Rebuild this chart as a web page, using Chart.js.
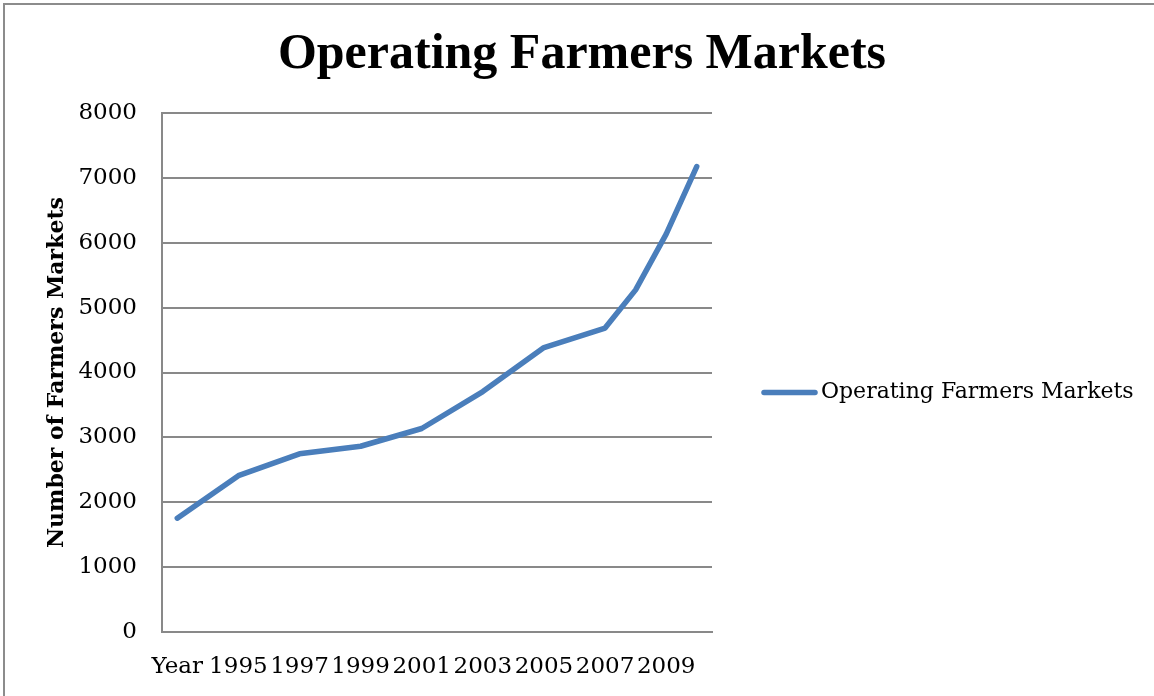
<!DOCTYPE html>
<html>
<head>
<meta charset="utf-8">
<script src="https://cdn.jsdelivr.net/npm/chart.js@4/dist/chart.umd.min.js"></script>
<style>
  body { margin: 0; background: #fff; }
  #wrap { position: relative; width: 1154px; height: 696px; overflow: hidden; }
  #frame { position: absolute; left: 3px; top: 3px; width: 1170px; height: 710px; border: 2px solid #8c8c8c; pointer-events: none; }
</style>
</head>
<body>
<div id="wrap">
  <canvas id="farmers-chart" width="1154" height="696"></canvas>
  <div id="frame"></div>
</div>
<script>
// categories as they appear in the sheet (first cell is the header "Year")
const categories = ['Year', '1994', '1995', '1996', '1997', '1998', '1999', '2000', '2001',
    '2002', '2003', '2004', '2005', '2006', '2007', '2008', '2009', '2010'];

// number of operating farmers markets, gaps where the sheet had no value
const marketCounts = [1755, null, 2410, null, 2746, null, 2863, null, 3137,
    null, 3706, null, 4385, null, 4685, 5274, 6132, 7175];

const yTicks = { min: 0, max: 8000, step: 1000 };

const seriesName = 'Operating Farmers Markets';
const lineColor = '#4a7ebb';
const gridColor = '#898989';
const serif = '"DejaVu Serif", serif';

// legend sits far right of the plot like in the Excel chart, the built-in
// one gets squeezed, so draw it here from the dataset itself
const sideLegend = {
    id: 'sideLegend',
    afterDraw(chart) {
        const ds = chart.data.datasets[0];
        const ctx = chart.ctx;
        const y = (chart.chartArea.top + chart.chartArea.bottom) / 2 + 20;
        const x = chart.chartArea.right + 52;
        ctx.save();
        ctx.strokeStyle = ds.borderColor;
        ctx.lineWidth = ds.borderWidth;
        ctx.lineCap = 'round';
        ctx.beginPath();
        ctx.moveTo(x, y);
        ctx.lineTo(x + 51, y);
        ctx.stroke();
        ctx.fillStyle = '#000';
        ctx.font = '22px ' + serif;
        ctx.textBaseline = 'middle';
        ctx.fillText(ds.label, x + 57, y);
        ctx.restore();
    }
};

const config = {
    type: 'line',
    data: {
        labels: categories,
        datasets: [{
            label: seriesName,
            data: marketCounts,
            borderColor: lineColor,
            backgroundColor: lineColor,
            borderWidth: 5.5,
            borderCapStyle: 'round',
            borderJoinStyle: 'round',
            pointRadius: 0,
            spanGaps: true,
            tension: 0,
        }],
    },
    options: {
        responsive: false,
        animation: false,
        layout: {
            padding: { left: 16, right: 6, top: 0, bottom: 0 }
        },
        plugins: {
            title: {
                display: true,
                text: 'Operating Farmers Markets',
                color: '#000',
                font: { family: '"Liberation Serif", serif', size: 50, weight: 'bold' },
                padding: { top: 25, bottom: 28 },
            },
            legend: { display: false },
            tooltip: { enabled: false },
        },
        scales: {
            x: {
                type: 'category',
                offset: true,
                grid: { display: false, drawTicks: false },
                border: { display: true, color: gridColor, width: 2 },
                ticks: {
                    autoSkip: false,
                    maxRotation: 0,
                    padding: 21,
                    color: '#000',
                    font: { family: serif, size: 23 },
                    // Excel showed every second category label
                    callback: (value, index) => (index % 2 === 0 ? categories[index] : ''),
                },
                afterFit: (scale) => { scale.height = 64; },
            },
            y: {
                min: yTicks.min,
                max: yTicks.max,
                grid: { color: gridColor, lineWidth: 2, drawTicks: false },
                border: { display: true, color: gridColor, width: 2 },
                ticks: {
                    stepSize: yTicks.step,
                    padding: 25,
                    color: '#000',
                    font: { family: serif, size: 23 },
                    callback: (value) => String(value),
                },
                title: {
                    display: true,
                    text: 'Number of Farmers Markets',
                    color: '#000',
                    font: { family: serif, size: 22, weight: 'bold' },
                    padding: { top: 28, bottom: 0 },
                },
                afterFit: (scale) => { scale.width = 146; },
            },
            // empty space on the right where the legend goes
            side: {
                type: 'linear',
                position: 'right',
                grid: { display: false },
                border: { display: false },
                ticks: { display: false },
                afterFit: (scale) => { scale.width = 436; },
            },
        },
    },
    plugins: [sideLegend],
};

const chart = new Chart(document.getElementById('farmers-chart'), config);
</script>
</body>
</html>
